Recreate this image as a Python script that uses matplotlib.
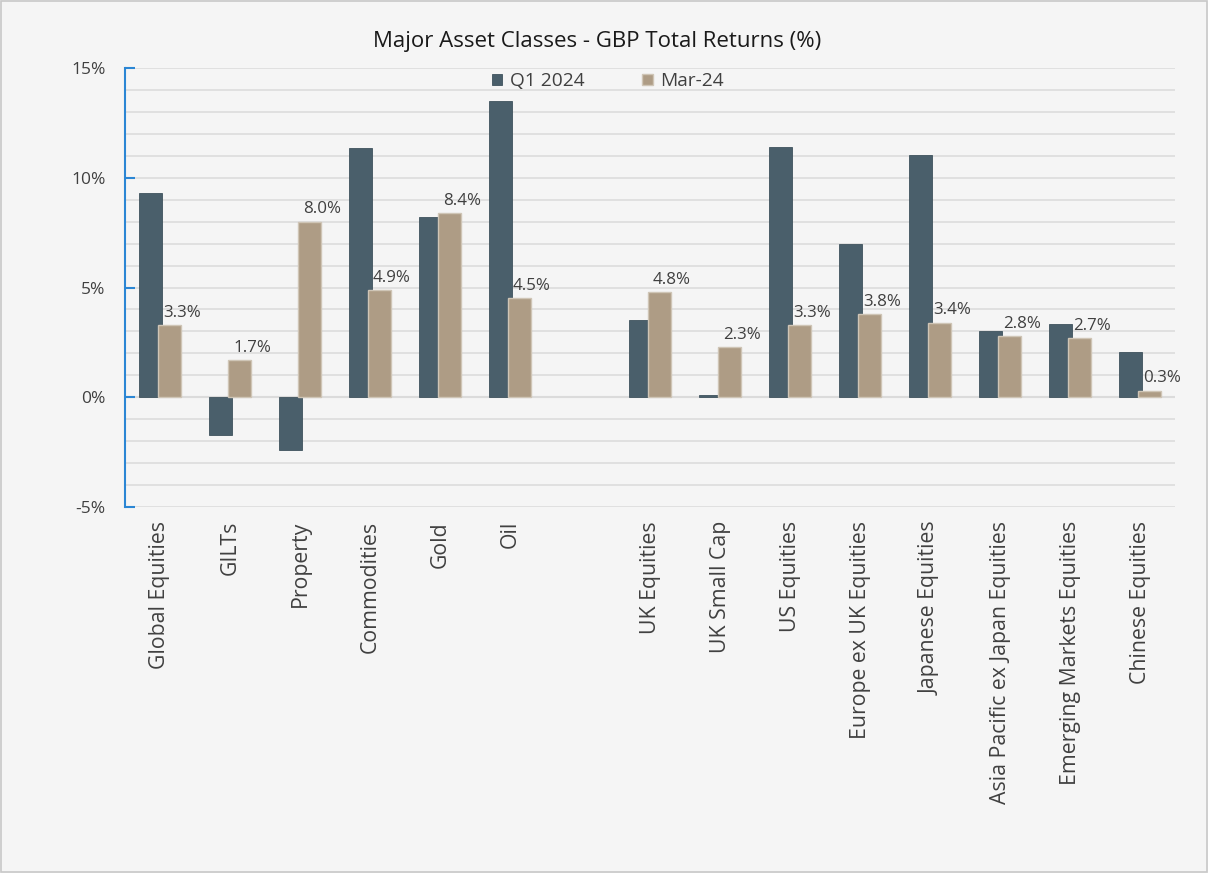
import numpy as np
import matplotlib
matplotlib.use("Agg")
from matplotlib import pyplot as plt
from matplotlib.patches import Rectangle

categories = ["Global Equities", "GILTs", "Property", "Commodities", "Gold", "Oil", "",
              "UK Equities", "UK Small Cap", "US Equities", "Europe ex UK Equities",
              "Japanese Equities", "Asia Pacific ex Japan Equities",
              "Emerging Markets Equities", "Chinese Equities"]
q1_2024 = [9.3, -1.7, -2.4, 11.35, 8.2, 13.5, np.nan,
           3.5, 0.12, 11.4, 7.0, 11.05, 3.0, 3.35, 2.05]
mar_24 = [3.3, 1.7, 8.0, 4.9, 8.4, 4.5, np.nan,
          4.8, 2.3, 3.3, 3.8, 3.4, 2.8, 2.7, 0.3]

DARK = "#4a5f6b"
TAN = "#ae9c85"
BG = "#f5f5f5"

plt.rcParams["font.family"] = ["Open Sans", "DejaVu Sans"]

fig = plt.figure(figsize=(12.08, 8.73), dpi=100, facecolor=BG)
ax = fig.add_axes([125 / 1208, 1 - 507 / 873, 1050 / 1208, 439 / 873])
ax.set_facecolor(BG)

x = np.arange(len(categories))
w = 0.33
ax.bar(x - 0.135, q1_2024, w, color=DARK, edgecolor="#3f525d", linewidth=0.6, zorder=2, label="Q1 2024")
ax.bar(x + 0.135, mar_24, w, color=TAN, edgecolor="#cfc5b6", linewidth=1.0, zorder=3, label="Mar-24")

# labels sit a little right of the Mar-24 bar centre, like the original
for xi, v in zip(x, mar_24):
    if np.isnan(v):
        continue
    ax.annotate(f"{v:.1f}%", xy=(xi + 0.135 + 0.18, v), xytext=(0, 3),
                textcoords="offset points", ha="center", va="bottom",
                fontsize=12.2, color="#404040", zorder=4)

ax.set_xlim(-0.5, len(categories) - 0.5)
ax.set_ylim(-5, 15)
ax.set_yticks([-5, 0, 5, 10, 15])
ax.set_yticklabels(["-5%", "0%", "5%", "10%", "15%"], fontsize=12.5, color="#404040")
ax.set_yticks(np.arange(-5, 16, 1), minor=True)
ax.grid(axis="y", which="both", color="#dcdcdc", linewidth=1.2, zorder=0)
ax.tick_params(axis="y", which="major", direction="in", length=7, width=1.5, color="#2b86d4", pad=14)
ax.tick_params(axis="y", which="minor", length=0)

ax.set_xticks(x)
ax.set_xticklabels(categories, rotation=90, fontsize=15.3, color="#404040")
ax.tick_params(axis="x", length=0, pad=10)

for s in ["top", "right", "bottom"]:
    ax.spines[s].set_visible(False)
ax.spines["left"].set_color("#2b86d4")
ax.spines["left"].set_linewidth(1.5)
ax.axhline(0, color="#d9d9d9", linewidth=1.5, zorder=1)

ax.legend(loc="upper center", bbox_to_anchor=(0.46, 1.03), ncol=2, frameon=False,
          fontsize=13.8, handlelength=0.55, handleheight=0.55, columnspacing=3.0,
          handletextpad=0.4, labelcolor="#404040")

fig.text(597 / 1208, 1 - 41 / 873, "Major Asset Classes - GBP Total Returns (%)",
         ha="center", va="center", fontsize=16, color="#1a1a1a")

fig.patches.append(Rectangle((0.0008, 0.001), 0.9984, 0.998, transform=fig.transFigure,
                             fill=False, edgecolor="#c8c8c8", linewidth=1.2))

fig.savefig("out.png", dpi=100, facecolor=BG)
